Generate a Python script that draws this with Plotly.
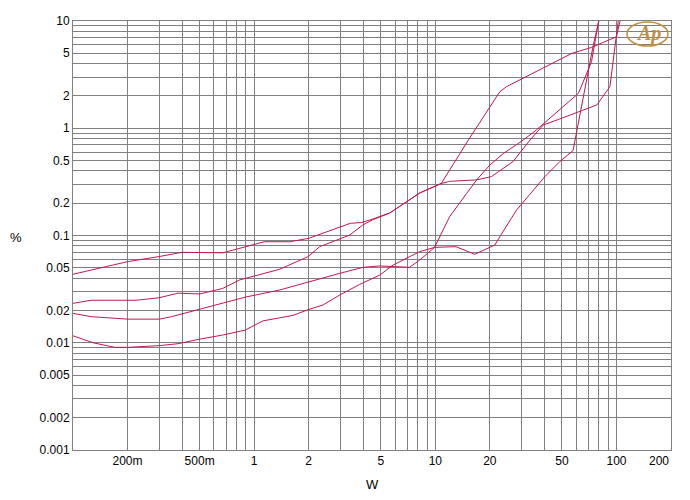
import plotly.graph_objects as go

# ---- data (W, %) ----
c1_w = [0.1, 0.2, 0.3, 0.4, 0.67, 0.89, 1.14, 1.57, 2.0, 3.4, 3.9, 4.5, 5.6, 8.2, 10.8, 12, 16.9, 20.4, 26.8, 33.4, 39.4, 48.6, 65.6, 78, 92, 96, 98.5, 103]
c1_thd = [0.0435, 0.057, 0.0637, 0.0697, 0.0689, 0.0787, 0.0875, 0.0875, 0.094, 0.13, 0.132, 0.142, 0.162, 0.249, 0.305, 0.32, 0.33, 0.354, 0.488, 0.78, 1.07, 1.22, 1.48, 1.65, 2.44, 4.33, 6.9, 11]

c2_w = [0.1, 0.126, 0.223, 0.3, 0.38, 0.5, 0.67, 0.83, 1.38, 1.98, 2.3, 3.37, 3.97, 4.5, 5.6, 8.2, 10.8, 15.1, 22.7, 24.7, 56.7, 72.8, 100, 106]
c2_thd = [0.0233, 0.0249, 0.0249, 0.0263, 0.029, 0.0285, 0.0321, 0.0385, 0.0484, 0.0634, 0.0787, 0.101, 0.125, 0.14, 0.162, 0.249, 0.307, 0.76, 2.19, 2.44, 4.99, 5.67, 7.13, 11]

c3_w = [0.1, 0.126, 0.2, 0.3, 0.35, 0.5, 0.9, 1.38, 2.0, 2.97, 3.99, 4.94, 7.2, 8.2, 9.9, 10.6, 12, 14.9, 16.9, 20, 23.7, 30.6, 36.1, 61.7, 72.8, 79.3, 81]
c3_thd = [0.0188, 0.0175, 0.0166, 0.0166, 0.0175, 0.0205, 0.0267, 0.031, 0.037, 0.0444, 0.0505, 0.052, 0.0505, 0.059, 0.0775, 0.0975, 0.15, 0.247, 0.329, 0.454, 0.58, 0.777, 0.963, 2.12, 4.17, 9.5, 11]

c4_w = [0.1, 0.129, 0.17, 0.2, 0.3, 0.38, 0.5, 0.67, 0.89, 1.12, 1.64, 1.98, 2.4, 2.97, 3.83, 4.94, 5.84, 6.36, 8.2, 9.9, 13, 16.5, 21.3, 22.7, 28.1, 40.2, 48.6, 57.6, 66, 74.4, 81]
c4_thd = [0.0116, 0.01, 0.00906, 0.00906, 0.0094, 0.0098, 0.0108, 0.0118, 0.0131, 0.016, 0.018, 0.0203, 0.0225, 0.0279, 0.035, 0.0428, 0.053, 0.057, 0.0707, 0.0775, 0.0787, 0.0668, 0.0815, 0.0975, 0.173, 0.353, 0.488, 0.62, 2.1, 5.9, 11]

# ---- axis ticks / gridlines ----
x_tickvals = [0.1, 0.2, 0.3, 0.4, 0.5, 0.6, 0.7, 0.8, 0.9,
              1, 2, 3, 4, 5, 6, 7, 8, 9,
              10, 20, 30, 40, 50, 60, 70, 80, 90,
              100, 200]
x_ticktext = ["", "200m", "", "", "500m", "", "", "", "",
              "1", "2", "", "", "5", "", "", "", "",
              "10", "20", "", "", "50", "", "", "", "",
              "100", ""]
x_last_label = "200"

y_tickvals = [0.001, 0.002, 0.003, 0.004, 0.005, 0.006, 0.007, 0.008, 0.009,
              0.01, 0.02, 0.03, 0.04, 0.05, 0.06, 0.07, 0.08, 0.09,
              0.1, 0.2, 0.3, 0.4, 0.5, 0.6, 0.7, 0.8, 0.9,
              1, 2, 3, 4, 5, 6, 7, 8, 9, 10]
y_ticktext = ["0.001", "0.002", "", "", "0.005", "", "", "", "",
              "0.01", "0.02", "", "", "0.05", "", "", "", "",
              "0.1", "0.2", "", "", "0.5", "", "", "", "",
              "1", "2", "", "", "5", "", "", "", "", "10"]

LINE = "#C8164B"
GRID = "#808080"
FONT = "Liberation Sans, Arial, sans-serif"
GOLD = "#C09040"

fig = go.Figure()
for w, t in [(c1_w, c1_thd), (c2_w, c2_thd), (c3_w, c3_thd), (c4_w, c4_thd)]:
    fig.add_trace(go.Scatter(x=w, y=t, mode="lines",
                             line=dict(color=LINE, width=1),
                             showlegend=False, hoverinfo="skip"))

axis_common = dict(type="log", showgrid=True, gridcolor=GRID, gridwidth=1,
                   showline=True, linecolor=GRID, linewidth=1, mirror=True,
                   ticks="", zeroline=False, automargin=False,
                   tickfont=dict(family=FONT, size=12, color="#000000"))

fig.update_xaxes(range=[-1, 2.30103], tickvals=x_tickvals, ticktext=x_ticktext,
                 tickangle=0, **axis_common)
fig.update_yaxes(range=[-3, 1], tickvals=y_tickvals, ticktext=y_ticktext,
                 **axis_common)

# plot area: 598 x 429 px
PW, PH = 598, 429

fig.update_layout(
    width=682, height=492,
    margin=dict(l=65, r=19, t=13, b=50),
    paper_bgcolor="white", plot_bgcolor="white",
    font=dict(family=FONT, size=12, color="#000000"),
    annotations=[
        dict(x=2.30103, y=0, xref="x", yref="paper", text=x_last_label,
             showarrow=False, xanchor="right", yanchor="top", yshift=-2,
             font=dict(family=FONT, size=12, color="#000000")),
        dict(x=0.5, y=-34 / PH, xref="paper", yref="paper", text="W",
             showarrow=False, xanchor="center", yanchor="middle",
             font=dict(family=FONT, size=13, color="#000000")),
        dict(x=-65 / PW, y=213 / PH, xref="paper", yref="paper", text="%",
             showarrow=False, xanchor="left", yanchor="middle",
             font=dict(family=FONT, size=13, color="#000000")),
        dict(x=0.962, y=0.972, xref="paper", yref="paper",
             text="<b><i>Ap</i></b>", showarrow=False,
             xanchor="center", yanchor="middle",
             font=dict(family="Liberation Serif, serif", size=20, color=GOLD)),
    ],
)

fig.add_shape(type="circle", xref="paper", yref="paper",
              x0=554 / PW, x1=595 / PW,
              y0=404 / PH, y1=428 / PH,
              line=dict(color=GOLD, width=1.5))

fig.write_html("out.html")
